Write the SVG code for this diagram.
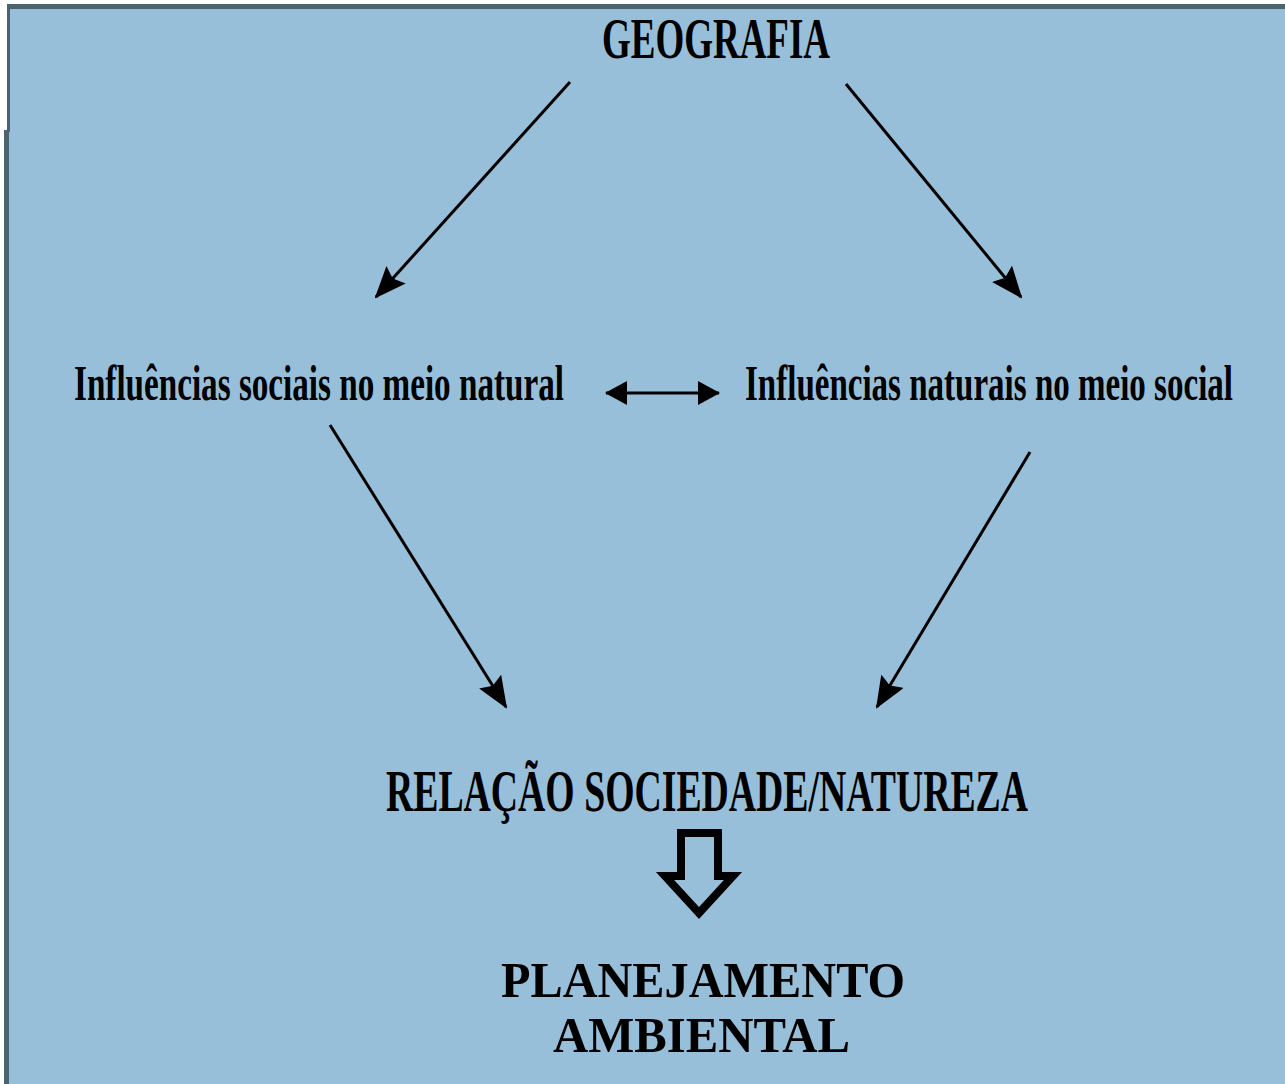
<svg xmlns="http://www.w3.org/2000/svg" width="1285" height="1084" viewBox="0 0 1285 1084">
<defs>
<style>
.t{font-family:"Liberation Serif","Times New Roman",serif;font-weight:bold;fill:#000}
.c{stroke:#000;stroke-width:3;fill:none}
</style>
<marker id="ah" markerUnits="userSpaceOnUse" markerWidth="32" markerHeight="26" viewBox="0 0 32 26" refX="30" refY="13" orient="auto">
<path d="M0,0 L32,13 L0,26 L5,13 Z" fill="#000"/>
</marker>
<marker id="ah2" markerUnits="userSpaceOnUse" markerWidth="22" markerHeight="24" viewBox="0 0 22 24" refX="21" refY="12" orient="auto-start-reverse">
<path d="M0,0 L22,12 L0,24 Z" fill="#000"/>
</marker>
</defs>
<rect x="0" y="0" width="1285" height="1084" fill="#fff"/>
<rect x="8" y="5" width="1277" height="1079" fill="#98bfd9"/>
<rect x="7" y="4" width="1278" height="5" fill="#4d626f"/>
<rect x="7" y="4" width="3" height="128" fill="#4d626f"/>
<rect x="4" y="130" width="5" height="954" fill="#4d626f"/>
<g id="geografia"><text class="t" x="602" y="58" font-size="58" textLength="228" lengthAdjust="spacingAndGlyphs">GEOGRAFIA</text></g>
<g id="sociais"><text class="t" x="74" y="400" font-size="50" textLength="490" lengthAdjust="spacingAndGlyphs">Influências sociais no meio natural</text></g>
<g id="naturais"><text class="t" x="745" y="400" font-size="50" textLength="488" lengthAdjust="spacingAndGlyphs">Influências naturais no meio social</text></g>
<g id="relacao"><text class="t" x="386" y="811" font-size="60" textLength="642" lengthAdjust="spacingAndGlyphs">RELAÇÃO SOCIEDADE/NATUREZA</text></g>
<g id="planejamento"><text class="t" x="501" y="997" font-size="50" textLength="404" lengthAdjust="spacingAndGlyphs">PLANEJAMENTO</text><text class="t" x="553" y="1052" font-size="50" textLength="297" lengthAdjust="spacingAndGlyphs">AMBIENTAL</text></g>
<g id="connectors">
<line class="c" x1="570" y1="82" x2="376" y2="297" marker-end="url(#ah)"/>
<line class="c" x1="846" y1="84" x2="1021" y2="297" marker-end="url(#ah)"/>
<line class="c" x1="330" y1="425" x2="506" y2="707" marker-end="url(#ah)"/>
<line class="c" x1="1030" y1="452" x2="877" y2="707" marker-end="url(#ah)"/>
<line class="c" x1="606" y1="393" x2="719" y2="393" marker-start="url(#ah2)" marker-end="url(#ah2)"/>
<path d="M681,833 L718,833 L718,876 L733,876 L699,913 L665,876 L681,876 Z" fill="none" stroke="#000" stroke-width="8" stroke-linejoin="miter"/>
</g>
</svg>
